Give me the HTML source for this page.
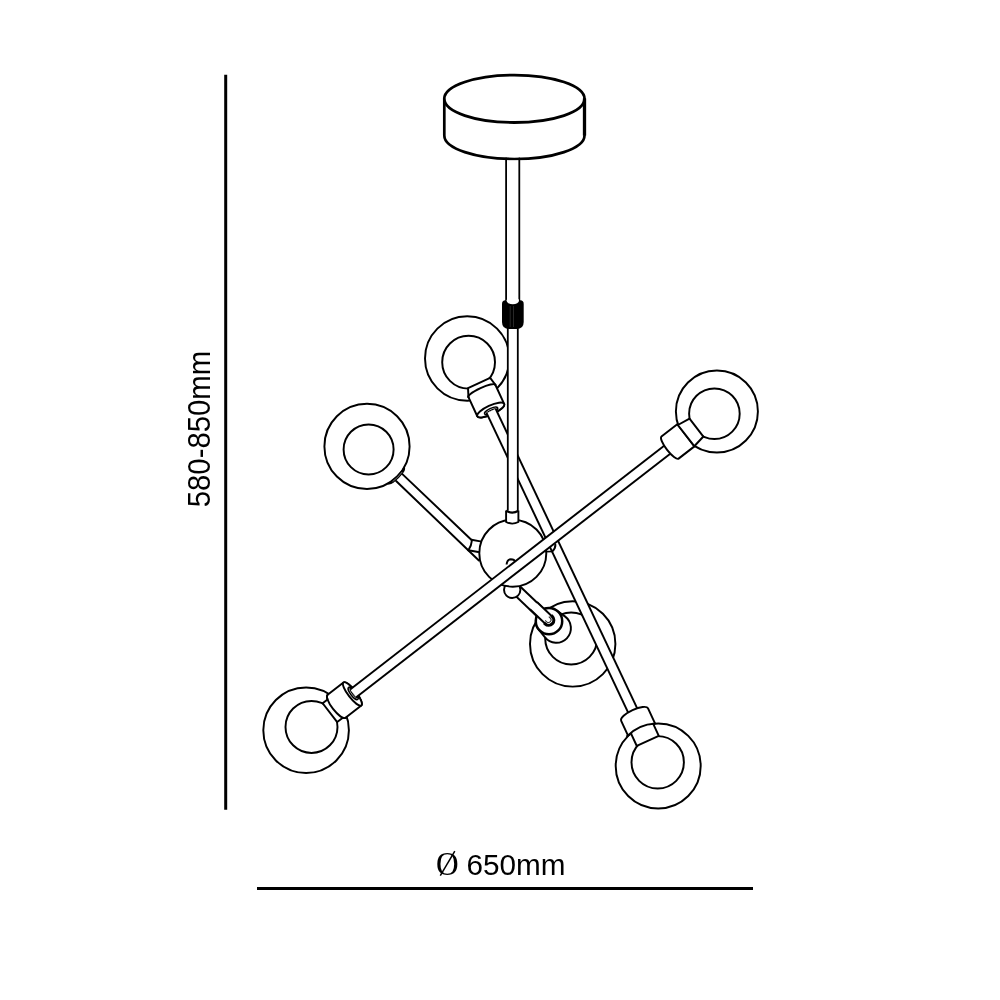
<!DOCTYPE html>
<html><head><meta charset="utf-8"><style>
html,body{margin:0;padding:0;background:#fff;width:1000px;height:1000px;overflow:hidden}
svg{display:block;will-change:transform}
</style></head><body>
<svg width="1000" height="1000" viewBox="0 0 1000 1000">
<rect width="1000" height="1000" fill="#fff"/>
<line x1="225.7" y1="74.8" x2="225.7" y2="809.8" stroke="#000" stroke-width="3"/>
<line x1="257" y1="888.5" x2="753" y2="888.5" stroke="#000" stroke-width="3"/>
<text transform="translate(436,874.8) scale(0.98,1.07)" x="0" y="0" font-family="Liberation Serif, serif" font-size="32" fill="#000">O</text>
<line x1="440.3" y1="875.6" x2="454.8" y2="851.2" stroke="#000" stroke-width="1.5" stroke-linecap="butt"/>
<text x="466.4" y="874.5" font-family="Liberation Sans, sans-serif" font-size="29.7" fill="#000">650mm</text>
<text transform="translate(209.6,429.1) rotate(-90) scale(1,1.04)" x="0" y="0" font-family="Liberation Sans, sans-serif" font-size="29.3" text-anchor="middle" fill="#000">580-850mm</text>
<path d="M444.3,98.8 L444.3,135.5 A70.1,23.5 0 0 0 584.5,135.5 L584.5,98.8" fill="#fff" stroke="#000" stroke-width="2.7"/>
<ellipse cx="514.4" cy="98.8" rx="70.1" ry="23.7" fill="#fff" stroke="#000" stroke-width="2.8"/>
<line x1="584.5" y1="98.5" x2="584.5" y2="135.5" stroke="#000" stroke-width="3.3"/>
<circle cx="572.70" cy="643.90" r="42.70" fill="#fff" stroke="#000" stroke-width="1.95"/>
<circle cx="571.20" cy="638.50" r="26.00" fill="#fff" stroke="#000" stroke-width="1.95"/>
<circle cx="467.20" cy="358.50" r="42.20" fill="#fff" stroke="#000" stroke-width="1.95"/>
<circle cx="468.60" cy="362.20" r="26.40" fill="#fff" stroke="#000" stroke-width="1.95"/>
<g transform="translate(469.60,362.50) rotate(65.156)">
<path d="M31,-14.00 L52,-14.00 A4.5,14.8 0 0 1 52,15.60 L31,15.60 A3.2,14.8 0 0 1 31,-14.00 Z" fill="#fff" stroke="#000" stroke-width="1.95" stroke-linejoin="round" stroke-linecap="round"/>
<path d="M22.6,-12.2 L31.00,-14.00 L31,-14.00 L31,15.60 L31.00,15.60 L22.6,12.2 Z" fill="#fff" stroke="none"/>
<path d="M31.00,-14.00 L22.6,-12.2 L22.6,12.2 L31.00,15.60" fill="none" stroke="#000" stroke-width="1.95" stroke-linejoin="round" stroke-linecap="round"/>
<path d="M31,15.60 A3.2,14.8 0 0 1 31,-14.00" fill="none" stroke="#000" stroke-width="1.95" stroke-linejoin="round" stroke-linecap="round"/>
<ellipse cx="52" cy="0.8" rx="4.5" ry="14.80" fill="#fff" stroke="#000" stroke-width="1.95"/>
<ellipse cx="53" cy="0.8" rx="2.6" ry="7.2" fill="#fff" stroke="#000" stroke-width="1.5"/>
<ellipse cx="53.8" cy="0.8" rx="1.56" ry="5.7" fill="#fff" stroke="#000" stroke-width="1.2"/>
</g>
<circle cx="658.20" cy="765.90" r="42.50" fill="#fff" stroke="#000" stroke-width="1.95"/>
<circle cx="657.70" cy="762.30" r="26.20" fill="#fff" stroke="#000" stroke-width="1.95"/>
<line x1="491.14" y1="410.93" x2="635.88" y2="717.31" stroke="#000" stroke-width="11.95" stroke-linecap="butt"/>
<line x1="491.14" y1="410.93" x2="635.88" y2="717.31" stroke="#fff" stroke-width="8.05" stroke-linecap="butt"/>
<g transform="translate(657.70,762.30) rotate(245.156)">
<path d="M36.7,-15.70 L53,-15.70 A5,14.8 0 0 1 53,13.90 L36.7,13.90  Z" fill="#fff" stroke="none"/>
<path d="M36.7,-15.70 L53,-15.70 A5,14.8 0 0 1 53,13.90 L36.7,13.90 " fill="none" stroke="#000" stroke-width="1.95" stroke-linejoin="round" stroke-linecap="round"/>
<path d="M23.6,-12.1 L37.00,-12.10 L36.7,-12.10 L36.7,12.10 L37.00,12.10 L23.6,12.1 Z" fill="#fff" stroke="none"/>
<path d="M37.00,-12.10 L23.6,-12.1 L23.6,12.1 L37.00,12.10" fill="none" stroke="#000" stroke-width="1.95" stroke-linejoin="round" stroke-linecap="round"/>
</g>
<path d="M626.5,736.8 A42.5,42.5 0 0 1 655.5,723.5" fill="none" stroke="#000" stroke-width="2.1"/>
<rect x="506.1" y="160.6" width="13.2" height="141" fill="#fff" stroke="none"/>
<line x1="506.10" y1="158.50" x2="506.10" y2="302.00" stroke="#000" stroke-width="1.8" stroke-linecap="round"/>
<line x1="519.30" y1="158.50" x2="519.30" y2="302.00" stroke="#000" stroke-width="1.8" stroke-linecap="round"/>
<rect x="507.8" y="326" width="10" height="190" fill="#fff" stroke="none"/>
<line x1="507.80" y1="326.00" x2="507.80" y2="514.00" stroke="#000" stroke-width="1.8" stroke-linecap="round"/>
<line x1="517.80" y1="326.00" x2="517.80" y2="514.00" stroke="#000" stroke-width="1.8" stroke-linecap="round"/>
<path d="M502,304 Q502,300.3 505.5,300.3 L520.2,300.3 Q523.7,300.3 523.7,304 L523.7,322 Q523.7,329 516.5,329 L509.2,329 Q502,329 502,322 Z" fill="#000"/>
<ellipse cx="512.8" cy="300.6" rx="6.2" ry="3.6" fill="#fff"/>
<line x1="510.2" y1="306" x2="510.2" y2="327" stroke="#3a3a3a" stroke-width="0.7"/>
<line x1="513.5" y1="306" x2="513.5" y2="327" stroke="#3a3a3a" stroke-width="0.7"/>
<line x1="512.00" y1="585.55" x2="548.45" y2="620.40" stroke="#000" stroke-width="11.95" stroke-linecap="butt"/>
<line x1="512.00" y1="585.55" x2="548.45" y2="620.40" stroke="#fff" stroke-width="8.05" stroke-linecap="butt"/>
<circle cx="512.20" cy="589.80" r="8.20" fill="#fff" stroke="#000" stroke-width="1.95"/>
<circle cx="512.80" cy="553.20" r="33.50" fill="#fff" stroke="#000" stroke-width="1.95"/>
<path d="M506.1,510.6 L506.1,522 Q512.25,525.2 518.4,522 L518.4,510.6" fill="#fff" stroke="#000" stroke-width="1.9" stroke-linejoin="round"/>
<path d="M506.1,510.8 Q512.25,514.4 518.4,510.8" fill="none" stroke="#000" stroke-width="2.3"/>
<path d="M538.61,629.29 L544.81,637.20 A14.6,14.6 0 1 0 564.90,616.40 L556.77,610.48 A13.2,13.2 0 0 0 538.61,629.29 Z" fill="#fff" stroke="#000" stroke-width="1.95" stroke-linejoin="round" stroke-linecap="round"/>
<circle cx="549.00" cy="621.15" r="13.20" fill="#fff" stroke="#000" stroke-width="2.5"/>
<g transform="translate(548.45,619.90) rotate(43.711)">
<path d="M-20,-5 L0,-5 A5,5 0 0 1 0,5 L-20,5 Z" fill="#fff" stroke="none"/>
<path d="M-20,-5 L0,-5 A5,5 0 0 1 0,5 L-20,5" fill="none" stroke="#000" stroke-width="1.95" stroke-linejoin="round" stroke-linecap="round"/>
<path d="M-1,-5.2 L0.3,-5.2 A5.2,5.2 0 0 1 0.3,5.2 L-1,5.2" fill="none" stroke="#000" stroke-width="3"/>
<path d="M-2,-2.6 L0,-2.6 A2.6,2.6 0 0 1 0,2.6 L-2,2.6" fill="none" stroke="#333" stroke-width="1.1"/>
</g>
<line x1="402.40" y1="474.10" x2="471.55" y2="539.94" stroke="#000" stroke-width="1.95" stroke-linecap="round"/>
<line x1="396.10" y1="481.00" x2="478.90" y2="560.48" stroke="#000" stroke-width="1.95" stroke-linecap="round"/>
<circle cx="367.00" cy="446.40" r="42.60" fill="#fff" stroke="#000" stroke-width="1.95"/>
<circle cx="368.60" cy="449.40" r="25.00" fill="#fff" stroke="#000" stroke-width="1.95"/>
<path d="M404.26,467.05 Q405.23,469.37 402.92,472.50 A44.4,44.4 0 0 1 393.10,482.32 Q389.97,484.63 387.65,483.66 A42.6,42.6 0 0 0 404.26,467.05 Z" fill="#000" stroke="#000" stroke-width="1.2" stroke-linejoin="round"/>
<path d="M402.19,471.97 A43.5,43.5 0 0 1 392.57,481.59" fill="none" stroke="#bbb" stroke-width="0.6"/>
<line x1="471.55" y1="539.80" x2="480.30" y2="541.40" stroke="#000" stroke-width="1.95" stroke-linecap="round"/>
<path d="M471.9,540.5 Q471.5,545.5 468.4,550.3" fill="none" stroke="#000" stroke-width="1.95" stroke-linejoin="round" stroke-linecap="round"/>
<line x1="468.40" y1="550.30" x2="478.20" y2="552.00" stroke="#000" stroke-width="1.95" stroke-linecap="round"/>
<path d="M506.6,564.5 Q507,559.5 510.8,559.3 Q514.5,559.3 515.3,562" fill="none" stroke="#000" stroke-width="2"/>
<path d="M546.4,551.6 L552.4,551.4 Q555.6,548 555.4,544.8" fill="none" stroke="#000" stroke-width="1.95" stroke-linejoin="round" stroke-linecap="round"/>
<circle cx="306.10" cy="730.20" r="42.80" fill="#fff" stroke="#000" stroke-width="1.95"/>
<circle cx="311.50" cy="726.90" r="26.00" fill="#fff" stroke="#000" stroke-width="1.95"/>
<g transform="translate(311.50,726.90) rotate(-37.740)">
<path d="M32.5,-15.60 L52.5,-15.60 A4,14.6 0 0 1 52.5,13.60 L32.5,13.60 A4.5,14.6 0 0 1 32.5,-15.60 Z" fill="#fff" stroke="#000" stroke-width="1.95" stroke-linejoin="round" stroke-linecap="round"/>
<path d="M23.3,-11.9 L29.51,-11.90 L32.5,-11.90 L32.5,11.90 L30.39,11.90 L23.3,11.9 Z" fill="#fff" stroke="none"/>
<path d="M29.51,-11.90 L23.3,-11.9 L23.3,11.9 L30.39,11.90" fill="none" stroke="#000" stroke-width="1.95" stroke-linejoin="round" stroke-linecap="round"/>
<path d="M32.5,13.60 A4.5,14.6 0 0 1 32.5,-15.60" fill="none" stroke="#000" stroke-width="1.95" stroke-linejoin="round" stroke-linecap="round"/>
<ellipse cx="52.5" cy="-1.0" rx="4" ry="14.60" fill="#fff" stroke="#000" stroke-width="1.95"/>
<ellipse cx="53.5" cy="-1.0" rx="2.6" ry="7.5" fill="#fff" stroke="#000" stroke-width="1.5"/>
<ellipse cx="54.3" cy="-1.0" rx="1.56" ry="6.0" fill="#fff" stroke="#000" stroke-width="1.2"/>
</g>
<circle cx="716.90" cy="411.50" r="41.00" fill="#fff" stroke="#000" stroke-width="1.95"/>
<circle cx="714.40" cy="413.70" r="25.30" fill="#fff" stroke="#000" stroke-width="1.95"/>
<line x1="353.20" y1="693.36" x2="674.62" y2="443.99" stroke="#000" stroke-width="11.95" stroke-linecap="butt"/>
<line x1="353.20" y1="693.36" x2="674.62" y2="443.99" stroke="#fff" stroke-width="8.05" stroke-linecap="butt"/>
<g transform="translate(714.40,413.70) rotate(142.260)">
<path d="M35.8,-13.60 L55.8,-13.60 A3.7,14 0 0 1 55.8,14.40 L35.8,14.40 Z" fill="#fff" stroke="#000" stroke-width="1.95" stroke-linejoin="round" stroke-linecap="round"/>
<path d="M22.7,-11.3 L35.80,-13.40 L35.8,-13.40 L35.8,13.40 L35.80,13.40 L22.7,11.3 Z" fill="#fff" stroke="none"/>
<path d="M35.80,-13.40 L22.7,-11.3 L22.7,11.3 L35.80,13.40 Z" fill="none" stroke="#000" stroke-width="1.95" stroke-linejoin="round" stroke-linecap="round"/>
</g>
</svg>
</body></html>
